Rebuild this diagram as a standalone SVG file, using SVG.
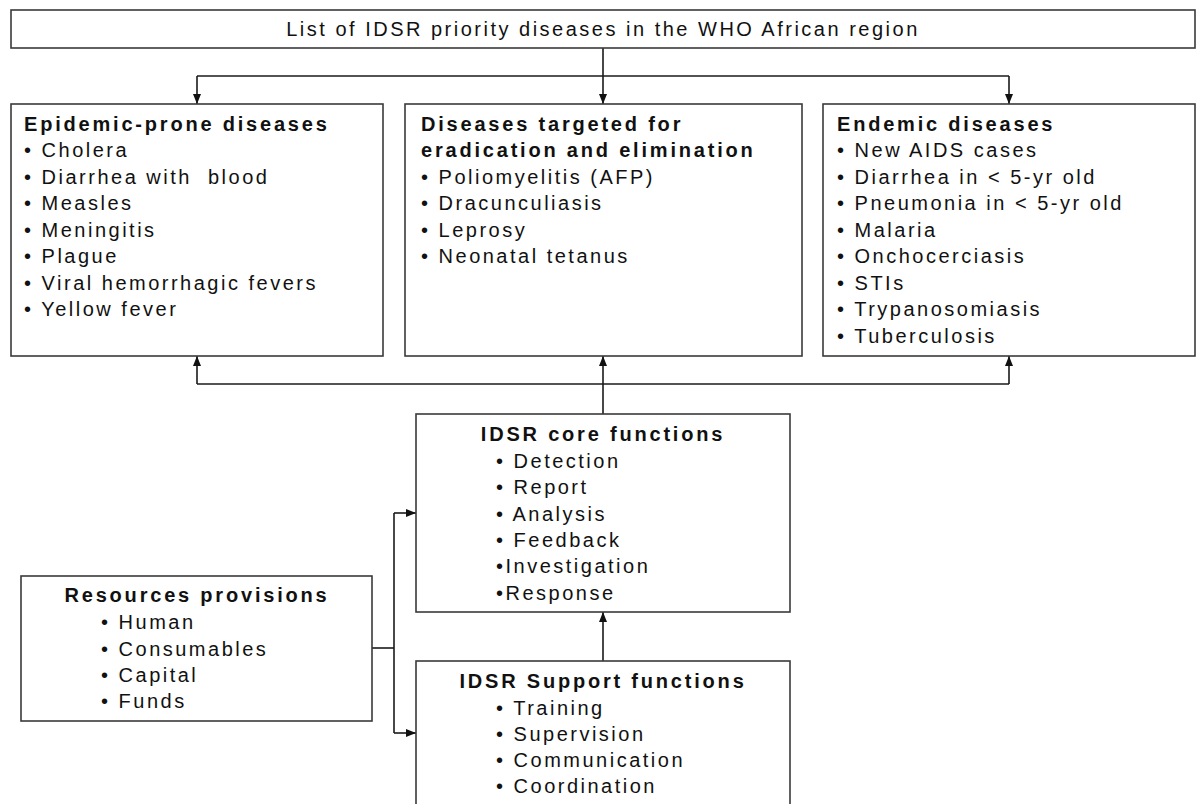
<svg xmlns="http://www.w3.org/2000/svg" width="1197" height="804" viewBox="0 0 1197 804">
<style>
.box{fill:#fff;stroke:#3a3a3a;stroke-width:1.6}
.ln{fill:none;stroke:#1a1a1a;stroke-width:1.6}
text{font-family:"Liberation Sans",Arial,sans-serif;font-size:20px;fill:#111;letter-spacing:2.5px;white-space:pre}
.b{font-weight:bold;letter-spacing:2.8px}
.c{text-anchor:middle}
</style>
<defs>
<marker id="ah" markerUnits="userSpaceOnUse" markerWidth="10" markerHeight="10" viewBox="0 0 10 10" refX="10" refY="5" orient="auto"><path d="M0,1 L10,5 L0,9 z" fill="#111"/></marker>
</defs>
<rect width="1197" height="804" fill="#fff"/>
<g id="connectors">
<path class="ln" d="M603,48 V104" marker-end="url(#ah)"/>
<path class="ln" d="M197,76 H1009"/>
<path class="ln" d="M197,76 V104" marker-end="url(#ah)"/>
<path class="ln" d="M1009,76 V104" marker-end="url(#ah)"/>
<path class="ln" d="M197,384 H1009"/>
<path class="ln" d="M197,384 V356" marker-end="url(#ah)"/>
<path class="ln" d="M1009,384 V356" marker-end="url(#ah)"/>
<path class="ln" d="M603,414 V356" marker-end="url(#ah)"/>
<path class="ln" d="M603,661 V612" marker-end="url(#ah)"/>
<path class="ln" d="M372,648 H394"/>
<path class="ln" d="M394,513 V733"/>
<path class="ln" d="M394,513 H416" marker-end="url(#ah)"/>
<path class="ln" d="M394,733 H416" marker-end="url(#ah)"/>
</g>
<g id="top">
<rect class="box" x="11" y="10" width="1184" height="38"/>
<text class="c" x="603" y="36">List of IDSR priority diseases in the WHO African region</text>
</g>
<g id="epidemic">
<rect class="box" x="11" y="104" width="372" height="252"/>
<text class="b" x="24" y="131">Epidemic-prone diseases</text>
<text x="24" y="157">• Cholera</text>
<text x="24" y="183.5">• Diarrhea with  blood</text>
<text x="24" y="210">• Measles</text>
<text x="24" y="236.5">• Meningitis</text>
<text x="24" y="263">• Plague</text>
<text x="24" y="289.5">• Viral hemorrhagic fevers</text>
<text x="24" y="316">• Yellow fever</text>
</g>
<g id="eradication">
<rect class="box" x="405" y="104" width="397" height="252"/>
<text class="b" x="421" y="131">Diseases targeted for</text>
<text class="b" x="421" y="157">eradication and elimination</text>
<text x="421" y="184">• Poliomyelitis (AFP)</text>
<text x="421" y="210">• Dracunculiasis</text>
<text x="421" y="237">• Leprosy</text>
<text x="421" y="263">• Neonatal tetanus</text>
</g>
<g id="endemic">
<rect class="box" x="823" y="104" width="372" height="252"/>
<text class="b" x="837" y="131">Endemic diseases</text>
<text x="837" y="157">• New AIDS cases</text>
<text x="837" y="183.5">• Diarrhea in &lt; 5-yr old</text>
<text x="837" y="210">• Pneumonia in &lt; 5-yr old</text>
<text x="837" y="236.5">• Malaria</text>
<text x="837" y="263">• Onchocerciasis</text>
<text x="837" y="289.5">• STIs</text>
<text x="837" y="316">• Trypanosomiasis</text>
<text x="837" y="342.5">• Tuberculosis</text>
</g>
<g id="core">
<rect class="box" x="416" y="414" width="374" height="198"/>
<text class="b c" x="603" y="441">IDSR core functions</text>
<text x="496" y="467.5">• Detection</text>
<text x="496" y="494">• Report</text>
<text x="496" y="520.5">• Analysis</text>
<text x="496" y="547">• Feedback</text>
<text x="496" y="573">•Investigation</text>
<text x="496" y="599.5">•Response</text>
</g>
<g id="support">
<rect class="box" x="416" y="661" width="374" height="160"/>
<text class="b c" x="603" y="688">IDSR Support functions</text>
<text x="496" y="715">• Training</text>
<text x="496" y="741">• Supervision</text>
<text x="496" y="767">• Communication</text>
<text x="496" y="793">• Coordination</text>
</g>
<g id="resources">
<rect class="box" x="21" y="576" width="351" height="145"/>
<text class="b c" x="197" y="602">Resources provisions</text>
<text x="101" y="629">• Human</text>
<text x="101" y="656">• Consumables</text>
<text x="101" y="682">• Capital</text>
<text x="101" y="708">• Funds</text>
</g>
</svg>
